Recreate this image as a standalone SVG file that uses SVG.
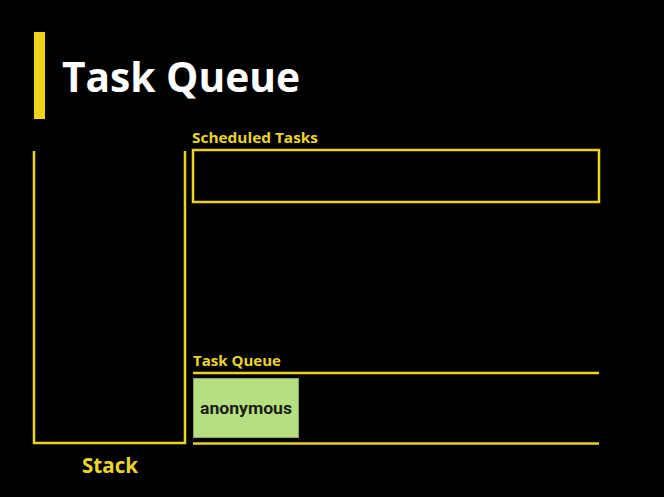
<svg xmlns="http://www.w3.org/2000/svg" width="664" height="497" viewBox="0 0 664 497">
<style>
.ln{fill:none;stroke:#e9d422;stroke-width:2.5}
.lbl{fill:#ecd52a;font-family:"Open Sans",Lato,sans-serif;font-weight:bold}
</style>
<rect x="0" y="0" width="664" height="497" fill="#000"/>
<g id="title">
<rect x="34" y="32" width="11" height="87" fill="#f0d316"/>
<text x="62" y="92" fill="#fff" font-family="'Open Sans',Lato,sans-serif" font-weight="bold" font-size="42" textLength="238" lengthAdjust="spacingAndGlyphs">Task Queue</text>
</g>
<g id="stack">
<path class="ln" d="M34,151 V443 H185 V151"/>
<text class="lbl" x="82" y="473" font-size="21" textLength="56" lengthAdjust="spacingAndGlyphs">Stack</text>
</g>
<g id="scheduled">
<text class="lbl" x="192" y="143" font-size="14.5" textLength="126" lengthAdjust="spacingAndGlyphs">Scheduled Tasks</text>
<rect class="ln" x="193" y="150" width="406" height="52"/>
</g>
<g id="taskqueue">
<text class="lbl" x="193" y="366" font-size="14.5" textLength="88" lengthAdjust="spacingAndGlyphs">Task Queue</text>
<line class="ln" x1="193" y1="373" x2="599" y2="373"/>
<line class="ln" x1="193" y1="443.5" x2="599" y2="443.5"/>
</g>
<g id="anonymous">
<rect x="193.5" y="378.5" width="105" height="59" fill="#b6e07f" stroke="#8f9f70" stroke-width="1"/>
<text x="200" y="414" fill="#1b1b1b" font-family="Roboto,'Liberation Sans',sans-serif" font-weight="bold" font-size="16.5" textLength="92" lengthAdjust="spacingAndGlyphs">anonymous</text>
</g>
<g id="connectors"/>
</svg>
